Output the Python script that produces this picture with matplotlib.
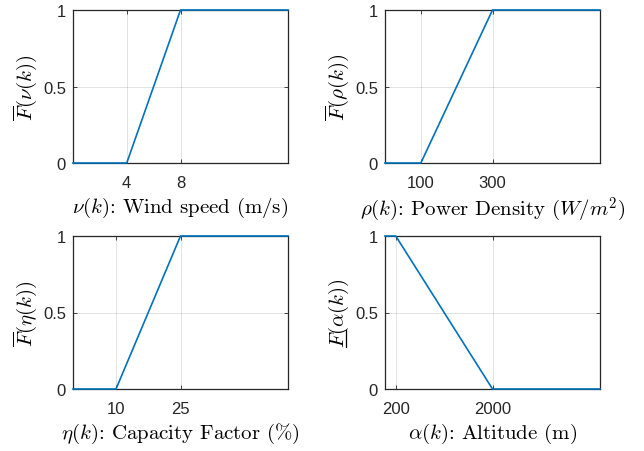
import matplotlib
matplotlib.use("Agg")
import matplotlib.pyplot as plt
from matplotlib.lines import Line2D

plt.rcParams['font.family'] = ['Liberation Sans', 'DejaVu Sans']
plt.rcParams['mathtext.fontset'] = 'cm'

# piecewise-linear membership functions
wind_x = [0, 4, 8, 16]
wind_y = [0, 0, 1, 1]
power_x = [0, 100, 300, 600]
power_y = [0, 0, 1, 1]
cap_x = [0, 10, 25, 50]
cap_y = [0, 0, 1, 1]
alt_x = [0, 200, 2000, 4000]
alt_y = [1, 1, 0, 0]

wind_ticks = [4, 8]
power_ticks = [100, 300]
cap_ticks = [10, 25]
alt_ticks = [200, 2000]

BLUE = '#0072BD'
DARK = '#262626'
LABEL_FS = 15

W, H = 644, 452
fig = plt.figure(figsize=(W / 100, H / 100), dpi=100)


def make_axes(left, top, x, y, xticks, xlabel, ylabel):
    ax = fig.add_axes([left / W, 1 - (top + 153) / H, 215 / W, 153 / H])
    ax.plot(x, y, color=BLUE, lw=1.2, clip_on=False, zorder=3)
    ax.set_xlim(x[0], x[-1])
    ax.set_ylim(0, 1)
    ax.set_xticks(xticks)
    ax.set_yticks([0, 0.5, 1])
    ax.set_yticklabels(['0', '0.5', '1'])
    ax.grid(True, color=DARK, alpha=0.15, lw=0.6)
    ax.tick_params(direction='in', length=3, width=0.6, colors=DARK,
                   labelsize=12, top=True, right=True)
    ax.tick_params(axis='x', pad=9)
    ax.tick_params(axis='y', pad=5)
    for s in ax.spines.values():
        s.set_color(DARK)
        s.set_linewidth(0.9)
    ax.set_xlabel(xlabel, fontsize=LABEL_FS, labelpad=3, color='black',
                  fontfamily='cmr10')
    ax.set_ylabel(ylabel, fontsize=LABEL_FS, labelpad=3, color='black')
    return ax


ax1 = make_axes(73, 11, wind_x, wind_y, wind_ticks,
                r'$\nu(k)$: Wind speed (m/s)',
                r'$\overline{F}(\nu(k))$')
ax2 = make_axes(385, 11, power_x, power_y, power_ticks,
                r'$\rho(k)$: Power Density $(W/m^2)$',
                r'$\overline{F}(\rho(k))$')
ax3 = make_axes(73, 237, cap_x, cap_y, cap_ticks,
                r'$\eta(k)$: Capacity Factor $(\%)$',
                r'$\overline{F}(\eta(k))$')
ax4 = make_axes(385, 237, alt_x, alt_y, alt_ticks,
                r'$\alpha(k)$: Altitude (m)',
                r'$F(\alpha(k))$')

# mathtext has no \underline, so draw the bar under F by hand
fig.canvas.draw()
r = fig.canvas.get_renderer()
lab = ax4.yaxis.label
bb = lab.get_window_extent(r)
probe = fig.text(0.5, 0.5, r'$F(\alpha(k))$', fontsize=LABEL_FS, va='baseline')
pb = probe.get_window_extent(r)
descent = fig.transFigure.transform((0.5, 0.5))[1] - pb.y0
probe.remove()
probe = fig.text(0.5, 0.5, r'$F$', fontsize=LABEL_FS)
fw = probe.get_window_extent(r).width
probe.remove()
ux = bb.x1 - descent + 2
y0, y1 = bb.y0, bb.y0 + fw
fig.add_artist(Line2D([ux / W, ux / W], [y0 / H, y1 / H],
                      transform=fig.transFigure, color='black', lw=0.9))

fig.savefig('out.png', dpi=100)
